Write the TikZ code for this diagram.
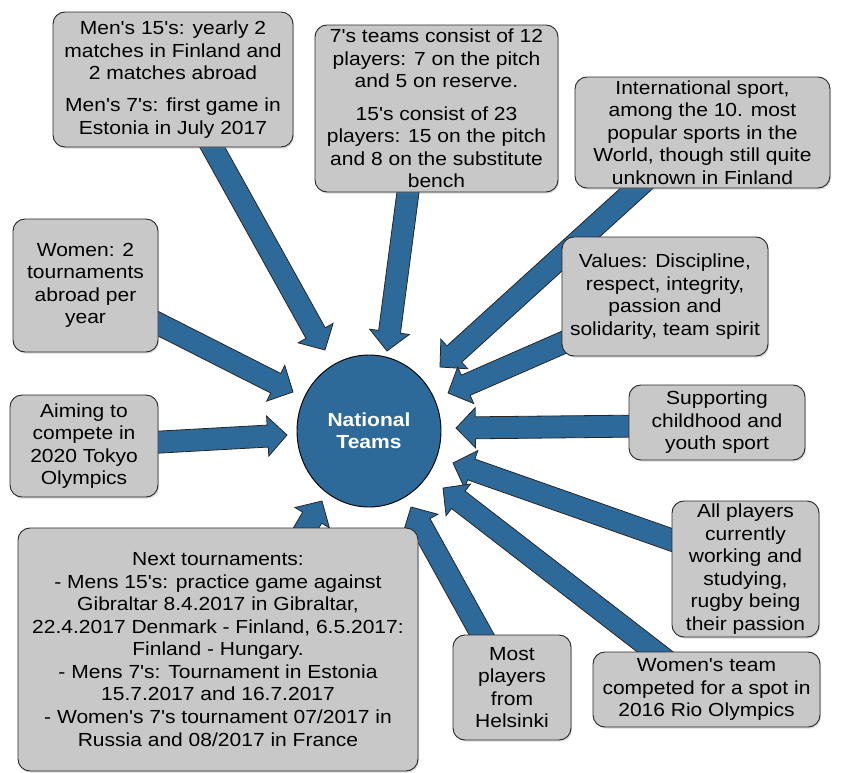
\documentclass[tikz,border=0pt]{standalone}
\usepackage{fontspec}
\setmainfont{Liberation Sans}[Ligatures=TeXOff, FakeStretch=1.11]
\usetikzlibrary{shapes.geometric,calc,shadows}
\pgfdeclarelayer{bg}
\pgfsetlayers{bg,main}
\definecolor{nblue}{HTML}{2D6A9A}
\definecolor{boxgray}{HTML}{C8C8C8}
\definecolor{edgecol}{HTML}{2A2A2A}
\newcommand\sw{8.25pt}
\newcommand\hw{15pt}
\newcommand\hl{14.5pt}
\newcommand\blockarrow[2]{%
  \path let \p1=(#1), \p2=(#2) in \pgfextra{%
    \pgfmathsetmacro\tmpang{atan2((\y2)-(\y1),(\x2)-(\x1))}%
    \pgfmathsetmacro\tmplen{veclen((\x2)-(\x1),(\y2)-(\y1))}%
    \xdef\baang{\tmpang}\xdef\balen{\tmplen}%
    \xdef\bax{\x1}\xdef\bay{\y1}};
  \draw[arrowsty, shift={(\bax,\bay)}, rotate=\baang]
    (0pt,-\sw) -- ({\balen pt-\hl},-\sw) -- ({\balen pt-\hl},-\hw) -- (\balen pt,0pt)
    -- ({\balen pt-\hl},\hw) -- ({\balen pt-\hl},\sw) -- (0pt,\sw) -- cycle;}
\tikzset{
  box/.style={draw=edgecol, line width=0.7pt, fill=boxgray, rounded corners=9pt,
    align=center, inner sep=0pt, font=\fontsize{14.2pt}{16.9pt}\selectfont,
    drop shadow={shadow xshift=0.8pt, shadow yshift=-1.2pt, opacity=0.3}},
  hub/.style={ellipse, draw=black, line width=0.7pt, fill=nblue, text=white,
    font=\bfseries\fontsize{14.2pt}{16.5pt}\selectfont, align=center, inner sep=0pt},
  arrowsty/.style={fill=nblue, draw=black!85, line width=0.6pt, line join=miter}
}
\begin{document}
\begin{tikzpicture}[x=0.75pt,y=-0.75pt]
\useasboundingbox (0,0) rectangle (843,772);

\node[hub, minimum width=144*0.75pt, minimum height=152*0.75pt] (hub) at (369,431) {National\\Teams};

\node[box, minimum width=240*0.75pt, minimum height=135*0.75pt] (b1) at (173,79.5)
  {Men's 15's: yearly 2\\matches in Finland and\\2 matches abroad\\[7pt]Men's 7's: first game in\\Estonia in July 2017};
\node[box, minimum width=243*0.75pt, minimum height=167*0.75pt] (b2) at (436.5,108.5)
  {7's teams consist of 12\\players: 7 on the pitch\\and 5 on reserve.\\[7.5pt]15's consist of 23\\players: 15 on the pitch\\and 8 on the substitute\\bench};
\node[box, minimum width=255*0.75pt, minimum height=111*0.75pt] (b3) at (702.5,132.5)
  {International sport,\\among the 10. most\\popular sports in the\\World, though still quite\\unknown in Finland};
\node[box, minimum width=206*0.75pt, minimum height=119*0.75pt] (b4) at (665,296.5)
  {Values: Discipline,\\respect, integrity,\\passion and\\solidarity, team spirit};
\node[box, minimum width=176*0.75pt, minimum height=75*0.75pt] (b5) at (717,422.5)
  {Supporting\\childhood and\\youth sport};
\node[box, minimum width=147*0.75pt, minimum height=136*0.75pt] (b6) at (745.5,569)
  {All players\\currently\\working and\\studying,\\rugby being\\their passion};
\node[box, minimum width=227*0.75pt, minimum height=75*0.75pt] (b7) at (706.5,689.5)
  {Women's team\\competed for a spot in\\2016 Rio Olympics};
\node[box, minimum width=118*0.75pt, minimum height=105*0.75pt] (b8) at (512,687.5)
  {Most\\players\\from\\Helsinki};
\node[box, minimum width=400*0.75pt, minimum height=243*0.75pt] (b9) at (218,649.5)
  {Next tournaments:\\- Mens 15's: practice game against\\Gibraltar 8.4.2017 in Gibraltar,\\22.4.2017 Denmark - Finland, 6.5.2017:\\Finland - Hungary.\\- Mens 7's: Tournament in Estonia\\15.7.2017 and 16.7.2017\\- Women's 7's tournament 07/2017 in\\Russia and 08/2017 in France};
\node[box, minimum width=145*0.75pt, minimum height=133*0.75pt] (b10) at (85.5,285.5)
  {Women: 2\\tournaments\\abroad per\\year};
\node[box, minimum width=148*0.75pt, minimum height=102*0.75pt] (b11) at (84,446)
  {Aiming to\\compete in\\2020 Tokyo\\Olympics};

% arrow ends
\coordinate (s1) at (205,134);  \coordinate (t1) at (325,350);
\coordinate (s2) at (410,177);  \coordinate (t2) at (387,351);
\coordinate (s3) at (648,178);  \coordinate (t3) at (440,367);
\coordinate (s4) at (576,337);  \coordinate (t4) at (448,393);
\coordinate (s5) at (645,426);  \coordinate (t5) at (456,428);
\coordinate (s6) at (686,545);  \coordinate (t6) at (453,463);
\coordinate (s7) at (667,661);  \coordinate (t7) at (443,488);
\coordinate (s8) at (489,648);  \coordinate (t8) at (411,507);
\coordinate (s9) at (299,540);  \coordinate (t9) at (322,501);
\coordinate (s10) at (145,317); \coordinate (t10) at (293,392);
\coordinate (s11) at (143,443); \coordinate (t11) at (287,435);

\begin{pgfonlayer}{bg}
\blockarrow{s1}{t1}
\blockarrow{s2}{t2}
\blockarrow{s3}{t3}
\blockarrow{s4}{t4}
\blockarrow{s5}{t5}
\blockarrow{s6}{t6}
\blockarrow{s7}{t7}
\blockarrow{s8}{t8}
\blockarrow{s9}{t9}
\blockarrow{s10}{t10}
\blockarrow{s11}{t11}
\end{pgfonlayer}
\end{tikzpicture}
\end{document}
